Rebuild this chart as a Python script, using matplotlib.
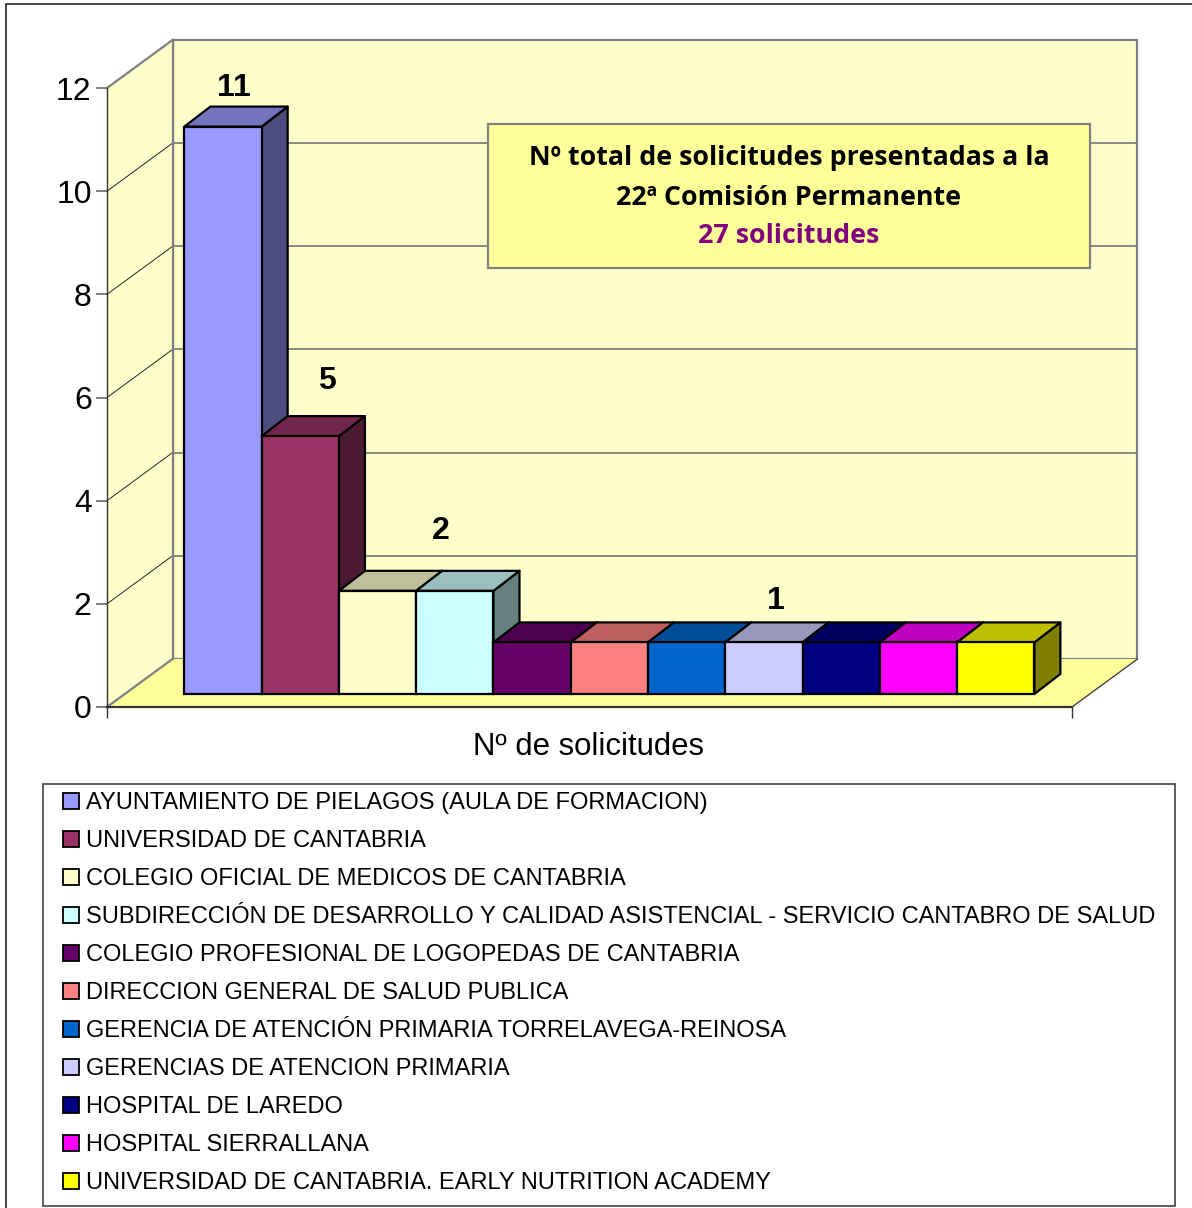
import matplotlib
matplotlib.use("Agg")
import matplotlib.pyplot as plt
from matplotlib.patches import Polygon, Rectangle, Patch

categories = [
    "AYUNTAMIENTO DE PIELAGOS (AULA DE FORMACION)",
    "UNIVERSIDAD DE CANTABRIA",
    "COLEGIO OFICIAL DE MEDICOS DE CANTABRIA",
    "SUBDIRECCIÓN DE DESARROLLO Y CALIDAD ASISTENCIAL - SERVICIO CANTABRO DE SALUD",
    "COLEGIO PROFESIONAL DE LOGOPEDAS DE CANTABRIA",
    "DIRECCION GENERAL DE SALUD PUBLICA",
    "GERENCIA DE ATENCIÓN PRIMARIA TORRELAVEGA-REINOSA",
    "GERENCIAS DE ATENCION PRIMARIA",
    "HOSPITAL DE LAREDO",
    "HOSPITAL SIERRALLANA",
    "UNIVERSIDAD DE CANTABRIA. EARLY NUTRITION ACADEMY",
]
values = [11, 5, 2, 2, 1, 1, 1, 1, 1, 1, 1]
colors = ["#9999FF", "#993366", "#FFFFCC", "#CCFFFF", "#660066", "#FF8080",
          "#0066CC", "#CCCCFF", "#000080", "#FF00FF", "#FFFF00"]
y_ticks = [0, 2, 4, 6, 8, 10, 12]
shown_labels = ["11", "5", "2", "1"]
x_title = "Nº de solicitudes"
box_lines = ["Nº total de solicitudes presentadas a la",
             "22ª Comisión Permanente", "27 solicitudes"]

W, H = 1192, 1208
PX_X, PX_Y = 77.27, 51.58        # pixels per category / per value unit
plt.rcParams["font.family"] = ["Liberation Sans", "DejaVu Sans"]
fig = plt.figure(figsize=(W / 100, H / 100), dpi=100, facecolor="white")
ax = fig.add_axes([107 / W, (H - 707) / H, 965 / W, 619 / H])
ax.set_xlim(0, 965 / PX_X)
ax.set_ylim(0, 12)
ax.patch.set_visible(False)
xmax = 965 / PX_X

def fx(p): return (p - 107) / PX_X
def fy(p): return (707 - p) / PX_Y

# outer chart border
fig.add_artist(plt.Line2D([6 / W, 6 / W, 1], [0, 1 - 4 / H, 1 - 4 / H],
                          transform=fig.transFigure, color="#111111", lw=1.1))

# walls and floor
wdx, wdy = 65.5 / PX_X, 48 / PX_Y
GRAY = "#808080"
ax.add_patch(Polygon([(wdx, wdy), (xmax + wdx, wdy), (xmax + wdx, 12 + wdy), (wdx, 12 + wdy)],
                     fc="#FFFFCC", ec=GRAY, lw=1.6, clip_on=False, zorder=1))
ax.add_patch(Polygon([(0, 0), (wdx, wdy), (wdx, 12 + wdy), (0, 12)],
                     fc="#FFFFCC", ec="none", clip_on=False, zorder=1))
ax.add_patch(Polygon([(0, 0), (xmax, 0), (xmax + wdx, wdy), (wdx, wdy)],
                     fc="#FFFF99", ec="none", clip_on=False, zorder=1))
for t in y_ticks[1:-1]:
    ax.plot([wdx, xmax + wdx], [t + wdy, t + wdy], color=GRAY, lw=1.3, zorder=2, clip_on=False)
    ax.plot([0, wdx], [t, t + wdy], color="#222222", lw=0.7, zorder=2, clip_on=False)
ax.plot([0, wdx], [0, wdy], color=GRAY, lw=1.6, zorder=2, clip_on=False)
ax.plot([0, wdx], [12, 12 + wdy], color=GRAY, lw=1.6, zorder=2, clip_on=False)
ax.plot([xmax, xmax + wdx], [0, wdy], color="#333333", lw=0.9, zorder=2, clip_on=False)
ax.plot([wdx, wdx], [wdy, 12 + wdy], color=GRAY, lw=1.6, zorder=2, clip_on=False)

# bars
x0 = fx(184.4)
y0 = 13 / PX_Y
bdx, bdy = 26 / PX_X, 20 / PX_Y
EDGE = "#000000"
def shade(c, k):
    r, g, b = matplotlib.colors.to_rgb(c)
    return (r * k, g * k, b * k)
z = 3
for i, (v, c) in enumerate(zip(values, colors)):
    l, r = x0 + i, x0 + i + 1
    b, t = y0, y0 + v
    ax.add_patch(Polygon([(r, b), (r + bdx, b + bdy), (r + bdx, t + bdy), (r, t)],
                         fc=shade(c, .5), ec=EDGE, lw=1.6, zorder=z, clip_on=False, joinstyle="round"))
    ax.add_patch(Polygon([(l, t), (r, t), (r + bdx, t + bdy), (l + bdx, t + bdy)],
                         fc=shade(c, .75), ec=EDGE, lw=1.6, zorder=z, clip_on=False, joinstyle="round"))
    ax.bar(l, v, width=1, bottom=b, align="edge", color=c, edgecolor=EDGE, lw=1.6,
           zorder=z + 0.5, clip_on=False)
    z += 1

# axes furniture
for s in ("top", "right"):
    ax.spines[s].set_visible(False)
ax.spines["left"].set_color("#333333")
ax.spines["left"].set_linewidth(1.0)
ax.spines["bottom"].set_color("#333333")
ax.spines["bottom"].set_linewidth(1.6)
ax.spines["left"].set_zorder(2.5)
ax.spines["bottom"].set_zorder(2.5)
ax.set_yticks(y_ticks)
ax.tick_params(axis="y", length=8, width=1.4, color=GRAY, labelsize=23, pad=3)
ax.set_xticks([0, xmax])
ax.set_xticklabels(["", ""])
ax.tick_params(axis="x", length=8, width=1.0, color="#333333")

ax.text(fx(588.5), fy(747), x_title, ha="center", va="center", fontsize=22.4, color="black")

# value labels
label_pos = [(234, 88), (327, 381), (441, 531), (776, 601)]
for s, (px, py) in zip(shown_labels, label_pos):
    ax.text(fx(px), fy(py), s, ha="center", va="center", fontsize=23, fontweight="bold",
            color="black", zorder=40)

# annotation box
ax.add_patch(Rectangle((fx(488.5), fy(268)), 601 / PX_X, 144 / PX_Y, fc="#FFFF99", ec=GRAY,
                       lw=1.6, zorder=30, clip_on=False))
box_font = ["Open Sans", "DejaVu Sans"]
for s, py, col in zip(box_lines, (158.5, 198.5, 236.5), ("black", "black", "#800080")):
    ax.text(fx(789), fy(py), s, ha="center", va="center", fontsize=19.26, fontweight="bold",
            family=box_font, color=col, zorder=41)

# legend frame and legend
fig.add_artist(Rectangle((42.5 / W, (H - 1206) / H), 1132 / W, 422 / H,
                         transform=fig.transFigure, fc="white", ec="#444444", lw=1.2))
handles = [Patch(fc=c, ec="black", lw=1.3) for c in colors]
leg = fig.legend(handles, categories, loc="upper left",
                 bbox_to_anchor=(63 / W, 1 - 792.5 / H), bbox_transform=fig.transFigure,
                 frameon=False, fontsize=17.05, handlelength=0.67, handleheight=0.67,
                 handletextpad=0.3, labelspacing=0.675, borderaxespad=0, borderpad=0)
leg.set_zorder(50)

fig.savefig("out.png", dpi=100, facecolor="white")
